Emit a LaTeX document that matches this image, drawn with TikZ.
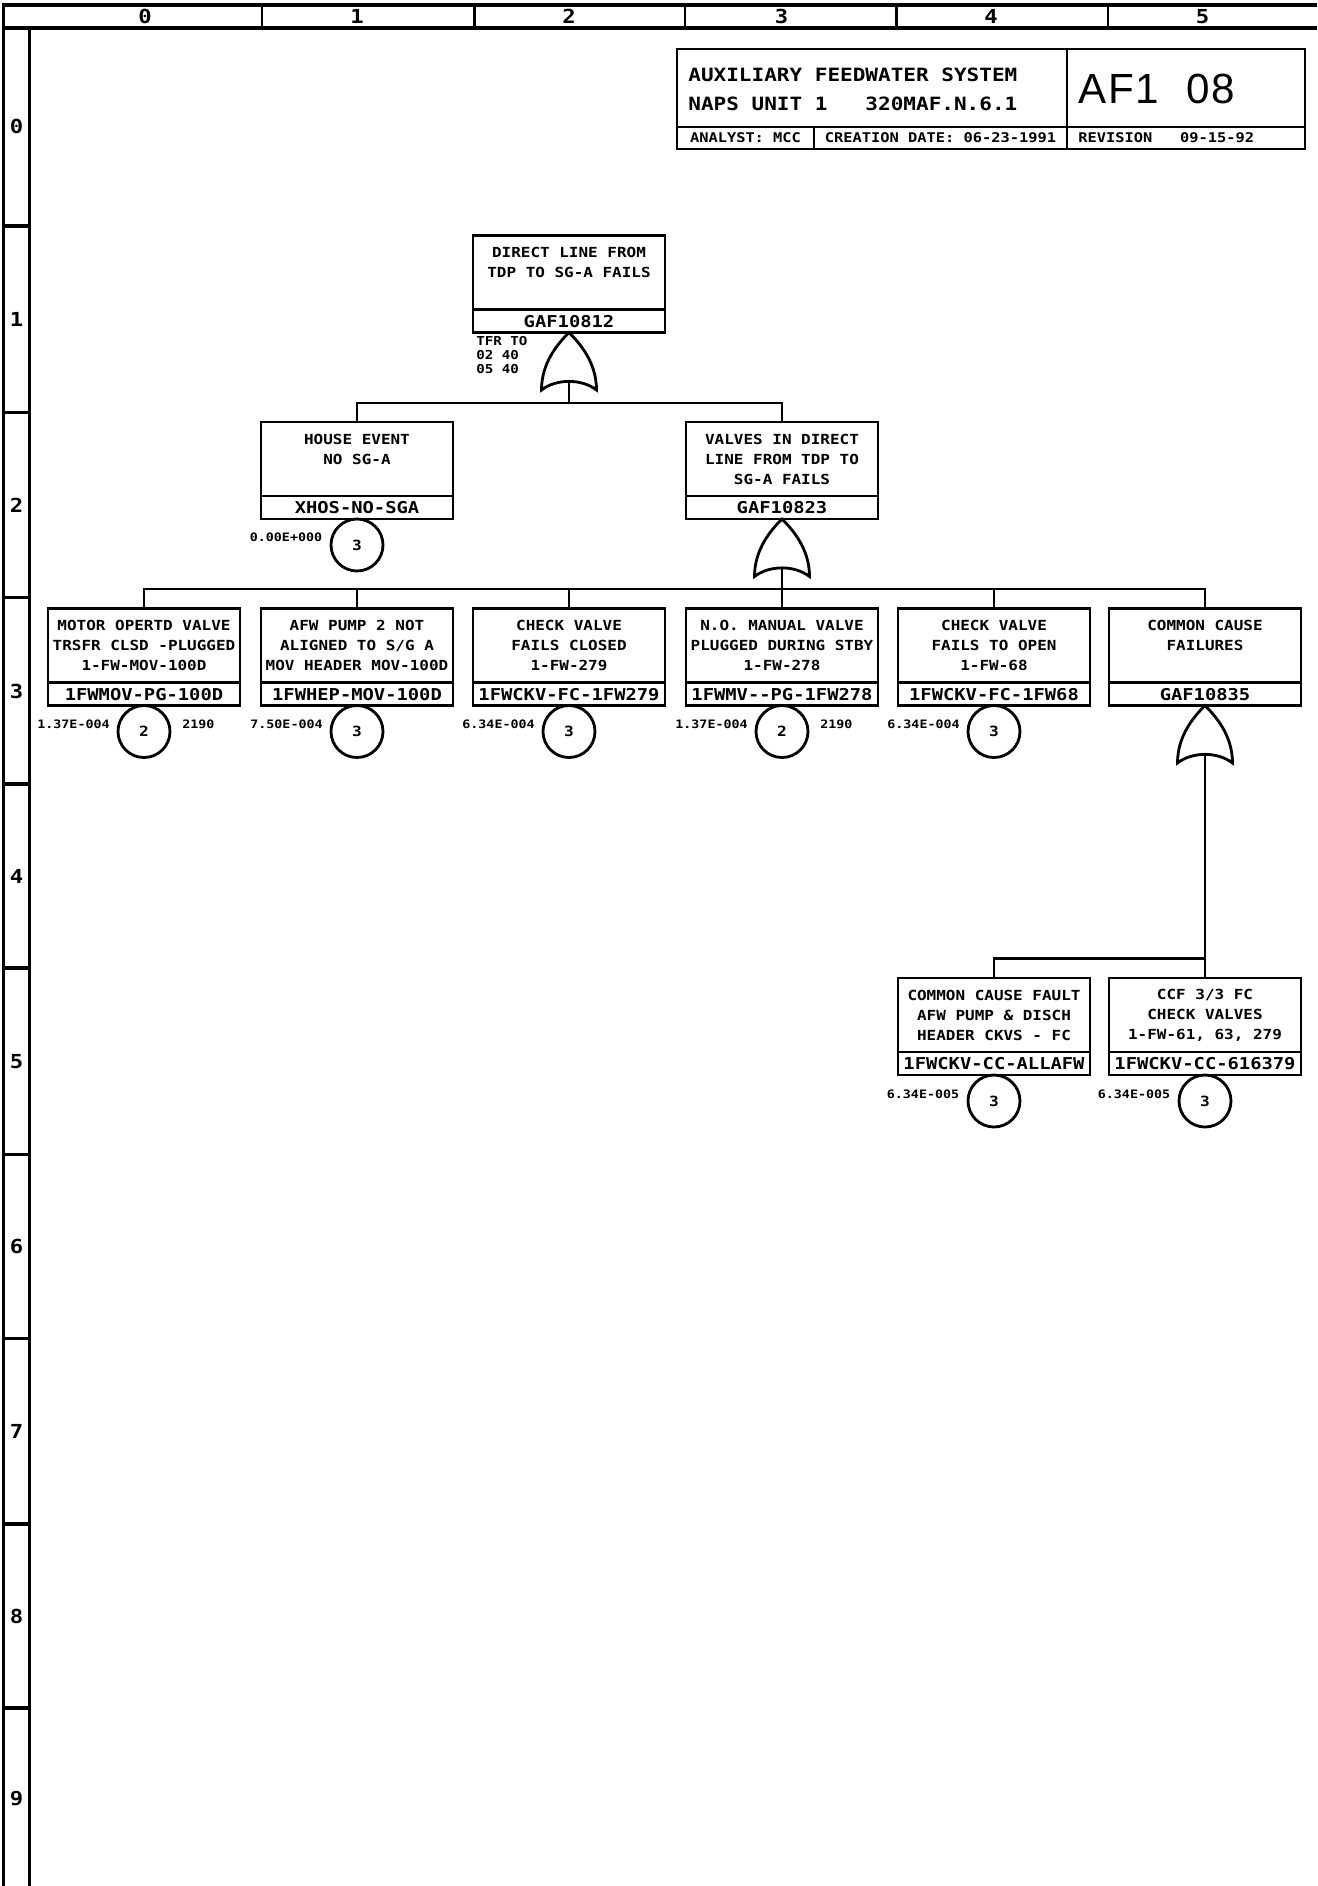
\documentclass[tikz,border=0pt]{standalone}
\usepackage{fontspec}
\usetikzlibrary{positioning}
\newfontfamily\plotfont[FakeStretch=1.15]{DejaVu Sans Mono}
\newfontfamily\sheetfont[LetterSpace=4]{Liberation Sans}
\tikzset{desc/.style={rectangle,draw,line width=1.6pt,anchor=north,outer sep=0pt,inner xsep=1pt,minimum width=3.84cm,minimum height=1.48cm,align=center,font=\plotfont\bfseries\fontsize{7.9}{11.4}\selectfont}}
\tikzset{tag/.style={rectangle,draw,line width=1.6pt,outer sep=0pt,inner sep=0pt,minimum width=3.84cm,minimum height=0.46cm,text height=0.24cm,text depth=0pt,font=\plotfont\bfseries\fontsize{9.3}{9.3}\selectfont}}
\tikzset{xfer/.style={circle,draw,line width=1.6pt,outer sep=0pt,inner sep=0pt,minimum size=1.04cm,font=\plotfont\bfseries\fontsize{8}{8}\selectfont}}
\tikzset{prob/.style={inner sep=0pt,font=\plotfont\bfseries\fontsize{6.6}{6.6}\selectfont}}
\tikzset{grid/.style={inner sep=0pt,font=\plotfont\bfseries\fontsize{11}{11}\selectfont}}
\tikzset{titletext/.style={inner sep=0pt,anchor=west,font=\plotfont\bfseries\fontsize{10.4}{10.4}\selectfont}}
\tikzset{infotext/.style={inner sep=0pt,font=\plotfont\bfseries\fontsize{7.6}{7.6}\selectfont}}
\tikzset{wire/.style={line width=1.6pt}, sheet/.style={line width=2.2pt}}
\tikzset{orgate/.pic={
    \draw[wire] (0,0) .. controls (-0.22,-0.22) and (-0.55,-0.6) .. (-0.55,-1.15)
      .. controls (-0.25,-0.92) and (0.25,-0.92) .. (0.55,-1.15)
      .. controls (0.55,-0.6) and (0.22,-0.22) .. (0,0) -- cycle;
    \coordinate (-out) at (0,-0.98);}}

\begin{document}
\begin{tikzpicture}
    \useasboundingbox (0,0) rectangle (26.34,-37.72);

    % sheet frame
    \draw [sheet] (0.07,-37.72) -- (0.07,-0.1) -- (26.34,-0.1);
    \draw [sheet] (0.59,-37.72) -- (0.59,-0.56) -- (26.34,-0.56);
    \draw [sheet] (0.07,-0.56) -- (0.59,-0.56);
    \foreach \x in {5.24,9.49,13.7,17.93,22.16}
        \draw [wire] (\x,-0.1) -- (\x,-0.56);
    \foreach \x/\n in {2.9/0,7.14/1,11.38/2,15.63/3,19.82/4,24.05/5}
        \node[grid] (col\n) at (\x,-0.33) {\n};
    \foreach \y in {4.52,8.25,11.95,15.68,19.36,23.09,26.77,30.48,34.16}
        \draw [sheet] (0.07,-\y) -- (0.59,-\y);
    \foreach \y/\n in {2.52/0,6.39/1,10.1/2,13.82/3,17.52/4,21.23/5,24.93/6,28.63/7,32.32/8,35.98/9}
        \node[grid] (row\n) at (0.33,-\y) {\n};

    % title block
    \draw [wire] (13.54,-0.98) rectangle (26.1,-2.98);
    \draw [wire] (13.54,-2.54) -- (26.1,-2.54);
    \draw [wire] (21.34,-0.98) -- (21.34,-2.98);
    \draw [wire] (16.28,-2.54) -- (16.28,-2.98);
    \node[titletext] (sys) at (13.76,-1.49) {AUXILIARY FEEDWATER SYSTEM};
    \node[titletext] (unit) at (13.76,-2.07) {NAPS UNIT 1~~~320MAF.N.6.1};
    \node[inner sep=0pt,anchor=west,font=\sheetfont\fontsize{24}{24}\selectfont] (page) at (21.56,-1.78) {AF1\hspace{0.55cm}08};
    \node[infotext] (analyst) at (14.91,-2.76) {ANALYST: MCC};
    \node[infotext] (created) at (18.81,-2.76) {CREATION DATE: 06-23-1991};
    \node[infotext,anchor=west] (rev) at (21.56,-2.76) {REVISION~~~09-15-92};

    \node[desc] (d812) at (11.38,-4.71) {DIRECT LINE FROM\\TDP TO SG-A FAILS\\\mbox{}};
    \node[tag,below=0pt of d812] (g812) {GAF10812};
    \node[prob,align=left,font=\plotfont\bfseries\fontsize{7}{7.9}\selectfont,below right=0.08cm and 0.06cm of g812.south west] (tfr) {TFR TO\\02 40\\05 40};
    \pic (ga) at (g812.south) {orgate};

    \node[desc] (dhouse) at (7.14,-8.44) {HOUSE EVENT\\NO SG-A\\\mbox{}};
    \node[tag,below=0pt of dhouse] (xhos) {XHOS-NO-SGA};
    \node[xfer,below=0pt of xhos] (cxhos) {3};
    \node[prob,left=0.17cm of cxhos,yshift=0.16cm] (pxhos) {0.00E+000};

    \node[desc] (d823) at (15.64,-8.44) {VALVES IN DIRECT\\LINE FROM TDP TO\\SG-A FAILS};
    \node[tag,below=0pt of d823] (g823) {GAF10823};
    \pic (gb) at (g823.south) {orgate};

    \coordinate (j1) at (11.38,-8.06);
    \draw [wire] (ga-out) -- (j1) -| (dhouse.north);
    \draw [wire] (j1) -| (d823.north);

    \node[desc] (dmov) at (2.88,-12.17) {MOTOR OPERTD VALVE\\TRSFR CLSD -PLUGGED\\1-FW-MOV-100D};
    \node[tag,below=0pt of dmov] (emov) {1FWMOV-PG-100D};
    \node[xfer,below=0pt of emov] (cmov) {2};
    \node[prob,left=0.16cm of cmov,yshift=0.14cm] (pmov) {1.37E-004};
    \node[prob,right=0.24cm of cmov,yshift=0.14cm] (tmov) {2190};

    \node[desc] (dhep) at (7.14,-12.17) {AFW PUMP 2 NOT\\ALIGNED TO S/G A\\MOV HEADER MOV-100D};
    \node[tag,below=0pt of dhep] (ehep) {1FWHEP-MOV-100D};
    \node[xfer,below=0pt of ehep] (chep) {3};
    \node[prob,left=0.16cm of chep,yshift=0.14cm] (phep) {7.50E-004};

    \node[desc] (d279) at (11.38,-12.17) {CHECK VALVE\\FAILS CLOSED\\1-FW-279};
    \node[tag,below=0pt of d279] (e279) {1FWCKV-FC-1FW279};
    \node[xfer,below=0pt of e279] (c279) {3};
    \node[prob,left=0.16cm of c279,yshift=0.14cm] (p279) {6.34E-004};

    \node[desc] (d278) at (15.64,-12.17) {N.O. MANUAL VALVE\\PLUGGED DURING STBY\\1-FW-278};
    \node[tag,below=0pt of d278] (e278) {1FWMV-{}-PG-1FW278};
    \node[xfer,below=0pt of e278] (c278) {2};
    \node[prob,left=0.16cm of c278,yshift=0.14cm] (p278) {1.37E-004};
    \node[prob,right=0.24cm of c278,yshift=0.14cm] (t278) {2190};

    \node[desc] (d68) at (19.88,-12.17) {CHECK VALVE\\FAILS TO OPEN\\1-FW-68};
    \node[tag,below=0pt of d68] (e68) {1FWCKV-FC-1FW68};
    \node[xfer,below=0pt of e68] (c68) {3};
    \node[prob,left=0.16cm of c68,yshift=0.14cm] (p68) {6.34E-004};

    \node[desc] (d835) at (24.10,-12.17) {COMMON CAUSE\\FAILURES\\\mbox{}};
    \node[tag,below=0pt of d835] (g835) {GAF10835};
    \pic (gc) at (g835.south) {orgate};

    \coordinate (j2) at (15.64,-11.78);
    \draw [wire] (gb-out) -- (j2);
    \foreach \n in {dmov,dhep,d279,d278,d68,d835}
        \draw [wire] (j2) -| (\n.north);

    \node[desc] (dall) at (19.88,-19.56) {COMMON CAUSE FAULT\\AFW PUMP \& DISCH\\HEADER CKVS - FC};
    \node[tag,below=0pt of dall] (eall) {1FWCKV-CC-ALLAFW};
    \node[xfer,below=0pt of eall] (call) {3};
    \node[prob,left=0.17cm of call,yshift=0.14cm] (pall) {6.34E-005};

    \node[desc] (d6379) at (24.10,-19.56) {CCF 3/3 FC\\CHECK VALVES\\1-FW-61, 63, 279};
    \node[tag,below=0pt of d6379] (e6379) {1FWCKV-CC-616379};
    \node[xfer,below=0pt of e6379] (c6379) {3};
    \node[prob,left=0.17cm of c6379,yshift=0.14cm] (p6379) {6.34E-005};

    \coordinate (j3) at (24.10,-19.17);
    \draw [wire] (gc-out) -- (j3) -| (dall.north);
    \draw [wire] (j3) -- (d6379.north);
\end{tikzpicture}
\end{document}
